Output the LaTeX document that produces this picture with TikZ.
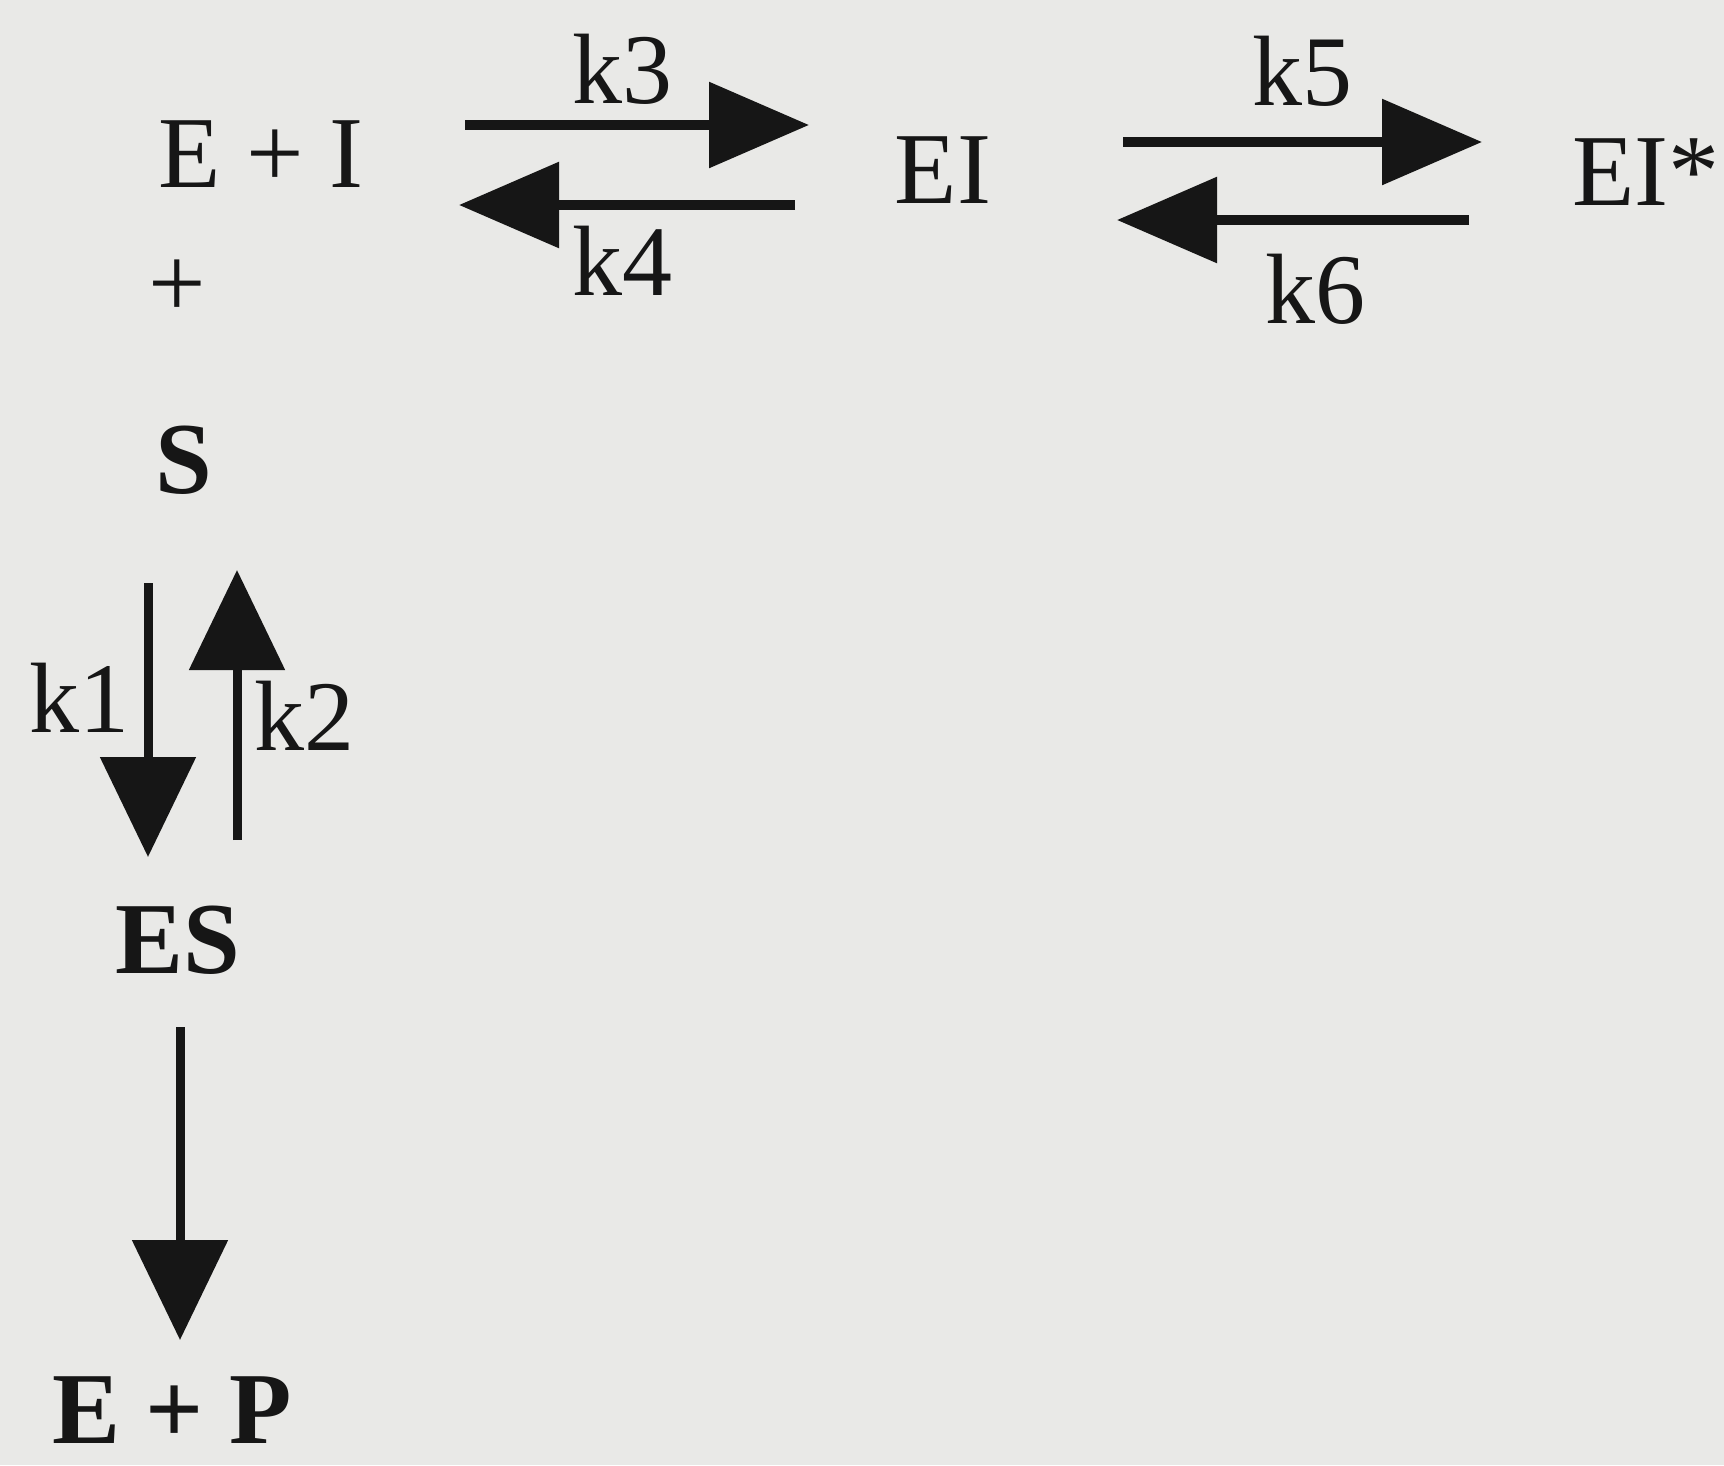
\documentclass[tikz,border=0pt]{standalone}
\usepackage{fontspec}
\setmainfont{Liberation Serif}
\usetikzlibrary{arrows.meta}
\definecolor{paper}{RGB}{233,233,231}
\definecolor{ink}{RGB}{22,22,22}
\begin{document}
\begin{tikzpicture}[x=1pt,y=-1pt,
  big/.style={inner sep=0pt,anchor=base,text=ink,font=\fontsize{102}{110}\selectfont},
  bigb/.style={inner sep=0pt,anchor=base,text=ink,font=\fontsize{102}{110}\selectfont\bfseries},
  klab/.style={inner sep=0pt,anchor=base,text=ink,font=\fontsize{100}{110}\selectfont},
  harrow/.style={draw=ink,line width=9.5pt,-{Triangle[length=100pt,width=84pt]}},
  varrow/.style={draw=ink,line width=9pt,-{Triangle[length=100pt,width=94pt]}}]
\useasboundingbox[fill=paper] (0,0) rectangle (1724,1465);
% species
\node[big] (EI0) at (261,187) {E + I};
\node[big] (EI) at (943,203) {EI};
\node[big] (EIs) at (1646,205) {EI*};
\node[big] (plus) at (177,317) {+};
\node[bigb] (S) at (184,493) {S};
\node[bigb] (ES) at (178,973) {ES};
\node[bigb] (EP) at (172,1443) {E + P};
% rate labels
\node[klab] (k3) at (622,103) {k3};
\node[klab] (k4) at (622,295) {k4};
\node[klab] (k5) at (1302,105) {k5};
\node[klab] (k6) at (1315,323) {k6};
\node[klab] (k1) at (79,732) {k1};
\node[klab] (k2) at (304,750) {k2};
% arrow end points
\coordinate (a3s) at (465,125); \coordinate (a3e) at (809,125);
\coordinate (a4s) at (795,205); \coordinate (a4e) at (459,205);
\coordinate (a5s) at (1123,142); \coordinate (a5e) at (1482,142);
\coordinate (a6s) at (1469,220); \coordinate (a6e) at (1117,220);
\coordinate (a1s) at (148,583); \coordinate (a1e) at (148,857);
\coordinate (a2s) at (237,840); \coordinate (a2e) at (237,570);
\coordinate (a7s) at (180,1027); \coordinate (a7e) at (180,1340);
% arrows
\draw[harrow] (a3s) -- (a3e);
\draw[harrow] (a4s) -- (a4e);
\draw[harrow] (a5s) -- (a5e);
\draw[harrow] (a6s) -- (a6e);
\draw[varrow] (a1s) -- (a1e);
\draw[varrow] (a2s) -- (a2e);
\draw[varrow] (a7s) -- (a7e);
\end{tikzpicture}
\end{document}
